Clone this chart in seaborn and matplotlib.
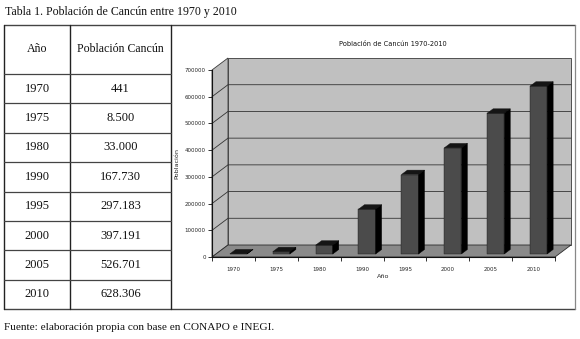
import matplotlib
matplotlib.use('Agg')
import matplotlib.pyplot as plt
import seaborn as sns
import pandas as pd
from matplotlib.patches import Polygon
from matplotlib.lines import Line2D
from matplotlib.transforms import IdentityTransform, Affine2D

# ---------------- data ----------------
years = ['1970', '1975', '1980', '1990', '1995', '2000', '2005', '2010']
population = [441, 8500, 33000, 167730, 297183, 397191, 526701, 628306]
y_ticks = [0, 100000, 200000, 300000, 400000, 500000, 600000, 700000]
table_title = 'Tabla 1. Población de Cancún entre 1970 y 2010'
col_headers = ['Año', 'Población Cancún']
chart_title = 'Población de Cancún 1970-2010'
x_label = 'Año'
y_label = 'Población'
source_note = 'Fuente: elaboración propia con base en CONAPO e INEGI.'

sns.set_theme(style='white')
plt.rcParams['font.family'] = ['DejaVu Sans']
SERIF = ['Liberation Serif', 'DejaVu Serif']

fig = plt.figure(figsize=(5.8, 3.39), dpi=100)
fig.patch.set_facecolor('white')

# background axes in pixel coordinates for the table
bg = fig.add_axes([0, 0, 1, 1])
bg.set_xlim(0, 580)
bg.set_ylim(339, 0)
bg.axis('off')

bg.text(5, 12, table_title, family=SERIF, fontsize=8.6, ha='left', va='center', color='#111')
bg.text(4, 327, source_note, family=SERIF, fontsize=8.1, ha='left', va='center', color='#111')

top, bottom = 25, 309
c0, c1, c2, right = 4, 70, 171, 575
head_bottom = 74
n_rows = len(years)
row_h = (bottom - head_bottom) / n_rows

lc = '#222222'
bg.add_line(Line2D([c0, right], [top, top], color='#444', lw=1.0))
bg.add_line(Line2D([c0, right], [bottom, bottom], color='#444', lw=1.0))
bg.add_line(Line2D([right, right], [top, bottom], color='#888', lw=0.9))
for xc in (c0, c1, c2):
    bg.add_line(Line2D([xc, xc], [top, bottom], color=lc, lw=1.0))
for i in range(n_rows):
    yl = head_bottom + i * row_h
    bg.add_line(Line2D([c0, c2], [yl, yl], color='#444', lw=0.9))

bg.text((c0 + c1) / 2, (top + head_bottom) / 2, col_headers[0], family=SERIF, fontsize=8.6,
        ha='center', va='center', color='#111')
bg.text((c1 + c2) / 2, (top + head_bottom) / 2, col_headers[1], family=SERIF, fontsize=8.6,
        ha='center', va='center', color='#111')
for i, (yr, pop) in enumerate(zip(years, population)):
    yc = head_bottom + (i + 0.5) * row_h
    bg.text((c0 + c1) / 2, yc, yr, family=SERIF, fontsize=9, ha='center', va='center', color='#111')
    bg.text((c1 + c2) / 2, yc, f'{pop:,}'.replace(',', '.'), family=SERIF, fontsize=9,
            ha='center', va='center', color='#111')

bg.text(393, 44, chart_title, fontsize=4.8, ha='center', va='center', color='#111')

# ---------------- chart ----------------
ax = fig.add_axes([212 / 580, (339 - 257) / 339, 343 / 580, 187 / 339])
ax.set_zorder(2)
ax.patch.set_visible(False)

df = pd.DataFrame({'Año': years, 'Población': population})
sns.barplot(data=df, x='Año', y='Población', color='#4b4b4b', saturation=1, width=0.4,
            ax=ax, edgecolor='#1a1a1a', linewidth=0.3, zorder=3)
ax.set_xlim(-0.5, len(years) - 0.5)
ax.set_ylim(y_ticks[0], y_ticks[-1])
ax.autoscale(False)

T = ax.transData
BD = (16, 12)     # depth of the back wall (pixels)
BO = (5, 3)       # bar front-face offset
DD = (6, 4.5)     # bar depth


def P(xd, yd, dx=0.0, dy=0.0):
    X, Y = T.transform((xd, yd))
    return (X + dx, Y + dy)


I = IdentityTransform()
xa, xb = -0.5, len(years) - 0.5
ya, yb = y_ticks[0], y_ticks[-1]

back = Polygon([P(xa, ya, *BD), P(xb, ya, *BD), P(xb, yb, *BD), P(xa, yb, *BD)],
               closed=True, fc='#c0c0c0', ec='#3a3a3a', lw=0.6, transform=I, clip_on=False, zorder=0.5)
left = Polygon([P(xa, ya), P(xa, ya, *BD), P(xa, yb, *BD), P(xa, yb)],
               closed=True, fc='#bcbcbc', ec='#3a3a3a', lw=0.6, transform=I, clip_on=False, zorder=0.5)
floor = Polygon([P(xa, ya), P(xb, ya), P(xb, ya, *BD), P(xa, ya, *BD)],
                closed=True, fc='#8a8a8a', ec='#2a2a2a', lw=0.6, transform=I, clip_on=False, zorder=0.6)
for poly in (back, left, floor):
    ax.add_patch(poly)

for v in y_ticks[1:-1]:
    p0, p1, p2 = P(xa, v), P(xa, v, *BD), P(xb, v, *BD)
    ax.add_line(Line2D([p0[0], p1[0], p2[0]], [p0[1], p1[1], p2[1]], color='#333333', lw=0.6,
                       transform=I, clip_on=False, zorder=0.7))

# bars: shift seaborn's bars into depth and add top / side faces
for p in list(ax.patches):
    if p in (back, left, floor):
        continue
    p.set_transform(T + Affine2D().translate(*BO))
    p.set_clip_on(False)
    x0 = p.get_x()
    x1 = x0 + p.get_width()
    h = p.get_height()
    top_face = Polygon([P(x0, h, *BO), P(x1, h, *BO),
                        P(x1, h, BO[0] + DD[0], BO[1] + DD[1]), P(x0, h, BO[0] + DD[0], BO[1] + DD[1])],
                       closed=True, fc='#151515', ec='#151515', lw=0.3, transform=I, clip_on=False, zorder=3.1)
    side_face = Polygon([P(x1, 0, *BO), P(x1, 0, BO[0] + DD[0], BO[1] + DD[1]),
                         P(x1, h, BO[0] + DD[0], BO[1] + DD[1]), P(x1, h, *BO)],
                        closed=True, fc='#000000', ec='#000000', lw=0.3, transform=I, clip_on=False, zorder=3.1)
    ax.add_patch(top_face)
    ax.add_patch(side_face)

for s in ('top', 'right'):
    ax.spines[s].set_visible(False)
for s in ('left', 'bottom'):
    ax.spines[s].set_color('#111')
    ax.spines[s].set_linewidth(0.8)
    ax.spines[s].set_zorder(2)

ax.set_yticks(y_ticks)
ax.set_yticklabels([str(v) for v in y_ticks])
ax.set_xticks(range(len(years)))
ax.set_xticklabels(years)
ax.set_xticks([i - 0.5 for i in range(len(years) + 1)], minor=True)
ax.tick_params(axis='y', which='major', left=True, length=3, width=0.6, labelsize=4, pad=1.5, color='#111')
ax.tick_params(axis='x', which='major', bottom=False, length=0, labelsize=4, pad=7)
ax.tick_params(axis='x', which='minor', bottom=True, length=3, width=0.6, color='#111')
ax.set_xlabel(x_label, fontsize=4.6, labelpad=2)
ax.set_ylabel(y_label, fontsize=4.6, labelpad=4)
ax.grid(False)

fig.savefig('out.png', dpi=100)
